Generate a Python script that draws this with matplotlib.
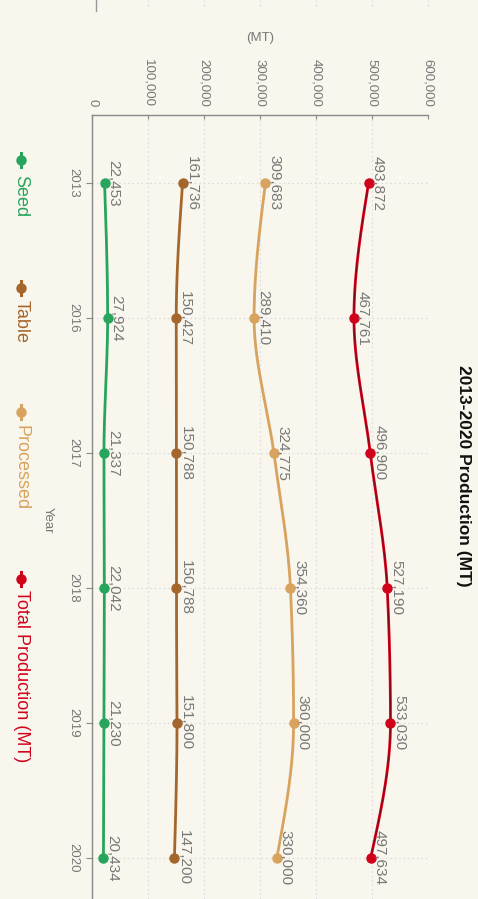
import numpy as np
import matplotlib.pyplot as plt
from matplotlib.lines import Line2D

plt.rcParams['font.family'] = ['Liberation Sans', 'DejaVu Sans']

# -----------------------
# data
# -----------------------
years = ['2013', '2016', '2017', '2018', '2019', '2020']
seed = [22453, 27924, 21337, 22042, 21230, 20434]
table = [161736, 150427, 150788, 150788, 151800, 147200]
processed = [309683, 289410, 324775, 354360, 360000, 330000]
total = [493872, 467761, 496900, 527190, 533030, 497634]

series_names = ['Seed', 'Table', 'Processed', 'Total Production (MT)']
series_vals = [seed, table, processed, total]
colors = ['#27a55c', '#a5662c', '#d8a35e', '#d0021b']

bg = '#f8f6ed'
grey = '#777777'


# monotone cubic (d3 curveMonotoneX style) for drawing the smooth line
def monotone_curve(y, n=30):
    y = np.asarray(y, dtype=float)
    m = len(y)
    s = np.diff(y)
    t = np.zeros(m)
    for i in range(1, m - 1):
        p = (s[i - 1] + s[i]) / 2
        t[i] = (np.sign(s[i - 1]) + np.sign(s[i])) * min(abs(s[i - 1]), abs(s[i]), 0.5 * abs(p))
    t[0] = (3 * s[0] - t[1]) / 2
    t[-1] = (3 * s[-1] - t[-2]) / 2
    xs, ys = [], []
    for i in range(m - 1):
        u = np.linspace(0, 1, n)
        h00 = 2 * u**3 - 3 * u**2 + 1
        h10 = u**3 - 2 * u**2 + u
        h01 = -2 * u**3 + 3 * u**2
        h11 = u**3 - u**2
        ys.append(h00 * y[i] + h10 * t[i] + h01 * y[i + 1] + h11 * t[i + 1])
        xs.append(i + u)
    return np.concatenate(xs), np.concatenate(ys)


W, H = 478, 899
fig = plt.figure(figsize=(W / 100, H / 100), dpi=100, facecolor=bg)
ax = fig.add_axes([92 / W, 0, 336 / W, 1 - 115 / H])
ax.set_facecolor(bg)

idx = np.arange(len(years))
for name, vals, c in zip(series_names, series_vals, colors):
    ti, tv = monotone_curve(vals)
    ax.plot(tv, ti, color=c, lw=2.0, zorder=3, solid_capstyle='round')
    if name.startswith('Total'):
        # dark core seen on the total line
        ax.plot(tv, ti, color='#5a0610', lw=0.6, alpha=0.7, zorder=3)
    ax.plot(vals, idx, 'o', color=c, ms=6.5, zorder=4)
    for v, i in zip(vals, idx):
        ax.annotate(f'{v:,}', (v, i), xytext=(6.5, 0), textcoords='offset points',
                    rotation=270, ha='center', va='center', fontsize=11,
                    color=grey, zorder=5)

ax.set_xlim(0, 600000)
ax.set_ylim(5.304, -0.504)
ax.set_xticks(np.arange(0, 600001, 100000))
ax.set_xticklabels([f'{v:,}' for v in range(0, 600001, 100000)])
ax.set_yticks(idx)
ax.set_yticklabels(years)

ax.xaxis.tick_top()
ax.tick_params(axis='x', direction='in', length=3, color='#888888', labelcolor=grey,
               labelsize=9.5, labelrotation=270, pad=6)
ax.tick_params(axis='y', direction='out', length=4, color='#888888', labelcolor=grey,
               labelsize=9.5, labelrotation=270, pad=5)
for lab in ax.get_yticklabels():
    lab.set_va('center')
    lab.set_ha('right')

for sp in ['right', 'bottom']:
    ax.spines[sp].set_visible(False)
for sp in ['top', 'left']:
    ax.spines[sp].set_color('#888888')
    ax.spines[sp].set_linewidth(1)

ax.grid(True, color='#d9dbe0', linestyle=(0, (1.5, 2.5)), linewidth=0.8, zorder=0)

# axis titles
fig.text(260 / W, 1 - 38 / H, '(MT)', ha='center', va='center', fontsize=9.5, color=grey)
fig.text(48 / W, 1 - 520 / H, 'Year', ha='center', va='center', rotation=270,
         fontsize=9.5, color=grey)

# chart title
fig.text(463 / W, 1 - 476 / H, '2013-2020 Production (MT)', ha='center', va='center',
         rotation=270, fontsize=12.5, fontweight='bold', color='#111111')

# legend (rotated)
leg_marker_y = [160, 288, 412, 579]
leg_text_y = [175, 300, 425, 590]
for name, c, my, ty in zip(series_names, colors, leg_marker_y, leg_text_y):
    fig.add_artist(Line2D([21 / W, 21 / W], [1 - (my - 7) / H, 1 - (my + 7) / H],
                          color=c, lw=2.2, transform=fig.transFigure))
    fig.add_artist(Line2D([21 / W], [1 - my / H], marker='o', ms=6.5, color=c,
                          transform=fig.transFigure))
    fig.text(21 / W, 1 - ty / H, name, ha='center', va='top', rotation=270,
             fontsize=13, color=c)

# remnants of the chart above (cropped)
fig.add_artist(Line2D([95.5 / W, 95.5 / W], [1, 1 - 11 / H], color='#999999', lw=1,
                      transform=fig.transFigure))
for v in range(100000, 600001, 100000):
    xf = (92 + v / 100000 * 56) / W
    fig.add_artist(Line2D([xf, xf], [1, 1 - 8 / H], color='#d9dbe0', lw=0.8,
                          linestyle=(0, (1.5, 2.5)), transform=fig.transFigure))

fig.savefig('out.png', dpi=100, facecolor=bg)
